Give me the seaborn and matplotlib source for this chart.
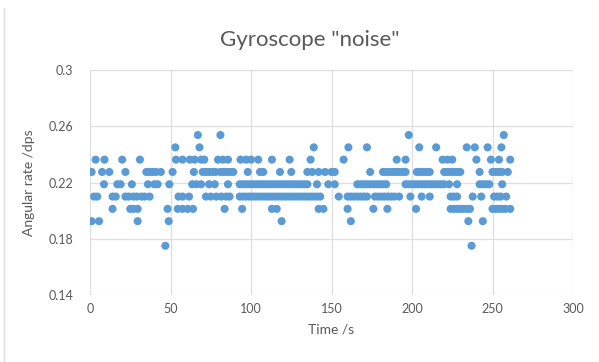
import matplotlib
matplotlib.use("Agg")
import matplotlib.pyplot as plt
from matplotlib.lines import Line2D
import pandas as pd
import seaborn as sns

# quantised gyro levels (dps) and the times (s) where a dot sits on each level
levels = [0.25375, 0.245, 0.23625, 0.2275, 0.21875, 0.21, 0.20125, 0.1925, 0.175]

t_25375 = [67, 81, 198, 257]
t_245 = [53, 68, 139, 160.5, 172, 204.5, 215, 234, 239, 247, 255.5]
t_23625 = [3.5, 9, 20, 31, 53.4, 57.5, 62, 65, 69, 71, 79.5, 82.6, 85.7, 93.5, 97,
           100, 104.5, 113, 124, 137, 157.5, 190.5, 196, 219, 222, 225, 240, 249,
           254, 261]
t_2275 = [1, 7.5, 12, 22, 35, 37, 39, 41, 44, 51.3, 64.5, 70, 72, 74, 76, 78, 81,
          83, 85, 87, 89, 98, 105.6, 107.6, 118, 125, 135, 138, 142, 146, 150, 152,
          174, 182, 184, 186, 188, 190, 192, 194, 196, 203, 205, 207, 209, 211,
          220, 222, 224, 226, 228, 230, 242, 250, 252, 254, 256, 259.5]
t_21875 = [8.7, 17, 19, 26, 36, 40, 42, 49.3, 63.5, 66, 69, 74, 77.5, 85.7, 93, 95,
           97, 99, 101, 103, 105, 107, 109, 111, 113, 115, 117, 119, 121, 123, 125,
           127, 129, 131, 133, 135, 141, 148, 152, 166, 168, 170, 172, 174, 176,
           178, 180, 182, 184, 196, 198, 200, 202, 204, 206, 208, 210, 212, 214,
           216, 218, 220, 223, 228, 242, 244, 246, 248, 256]
t_21 = [2.5, 4.5, 14, 16, 22, 24, 27, 29, 32, 34, 37, 55, 57.5, 61.5, 72, 75, 78.5,
        81.5, 84.6, 86.7, 93, 95, 97, 99, 101, 103, 105, 107, 109, 111, 113, 115,
        117, 119, 121, 123, 125, 127, 129, 131, 133, 135, 137, 139, 141, 143, 154.5,
        160, 162, 164, 166, 168, 170, 172, 177, 179, 181, 183, 185, 187, 189, 192,
        199, 206, 211, 224, 226, 228, 237.7, 243, 251, 253, 255, 258.5]
t_20125 = [14, 25, 27, 29.6, 48.2, 54.5, 57.5, 60.7, 64, 83.6, 94.5, 113, 116, 142,
           145, 160, 176, 184.7, 202.5, 224, 226, 228, 230, 232, 234, 236, 250, 252,
           254, 256, 258, 261]
t_1925 = [1, 5.6, 29.6, 48.9, 119, 162, 235, 244]
t_175 = [46.8, 237]

x_ticks = [0, 50, 100, 150, 200, 250, 300]
y_ticks = [0.14, 0.18, 0.22, 0.26, 0.3]
y_tick_labels = ["0.14", "0.18", "0.22", "0.26", "0.3"]

times_per_level = [t_25375, t_245, t_23625, t_2275, t_21875, t_21, t_20125, t_1925, t_175]
frames = [pd.DataFrame({"time": ts, "rate": lvl}) for lvl, ts in zip(levels, times_per_level)]
df = pd.concat(frames, ignore_index=True)

sns.set_theme(style="white")
plt.rcParams["font.family"] = ["Lato", "DejaVu Sans"]

W, H = 599, 362
fig = plt.figure(figsize=(W / 100, H / 100), dpi=100)
fig.subplots_adjust(left=90 / W, right=573 / W, top=1 - 70 / H, bottom=1 - 295 / H)
ax = fig.add_subplot(111)

grid_col = "#dedede"
text_col = "#595959"

sns.scatterplot(data=df, x="time", y="rate", ax=ax, color="#5b9bd5",
                s=34, edgecolor="none", linewidth=0, zorder=3)

ax.set_xlim(0, 300)
ax.set_ylim(0.14, 0.3)
ax.set_xticks(x_ticks)
ax.set_yticks(y_ticks)
ax.set_yticklabels(y_tick_labels)
ax.grid(True, color=grid_col, linewidth=0.9)
for sp in ax.spines.values():
    sp.set_visible(False)
ax.tick_params(length=0, labelsize=9, colors=text_col)
ax.tick_params(axis="y", pad=12)
ax.tick_params(axis="x", pad=6)

# Excel centres the title on the whole chart, not the plot area
fig.text(310 / W, 1 - 40 / H, 'Gyroscope "noise"', fontsize=16, color=text_col,
         ha="center", va="center")
ax.set_xlabel("Time /s", fontsize=10, color=text_col, labelpad=6)
ax.set_ylabel("Angular rate /dps", fontsize=10, color=text_col, labelpad=10)

# chart-area edge on the left
fig.lines.append(Line2D([4 / W, 4 / W], [0, 1 - 8 / H], transform=fig.transFigure,
                        color=grid_col, linewidth=1))

fig.savefig("out.png", dpi=100, facecolor="white")
